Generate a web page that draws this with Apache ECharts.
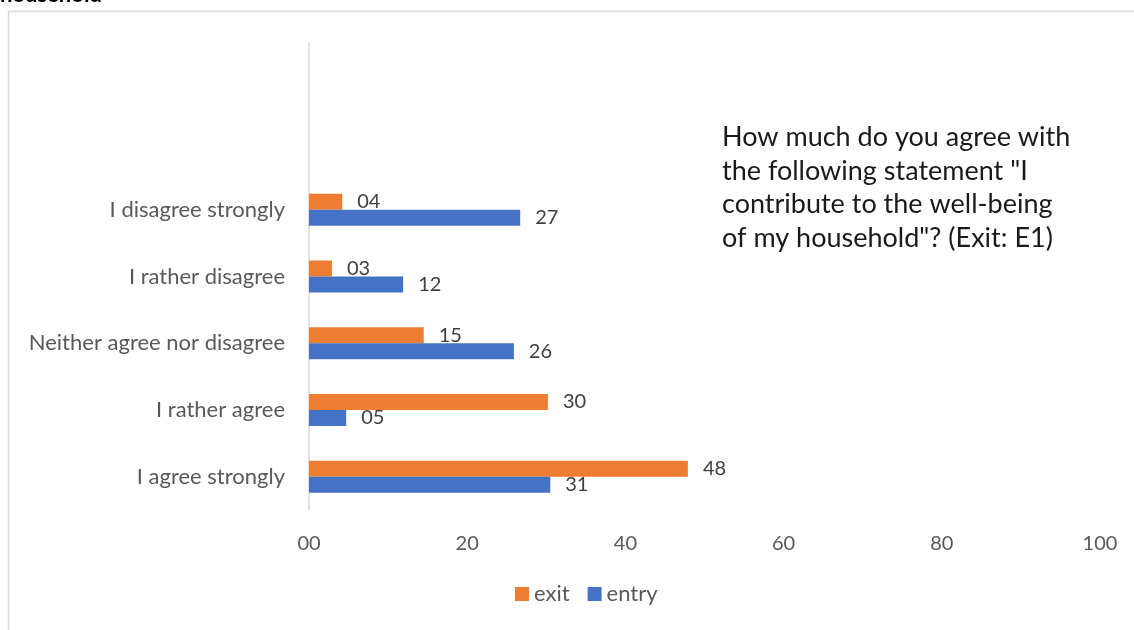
<!DOCTYPE html>
<html>
<head>
<meta charset="utf-8">
<script src="https://cdn.jsdelivr.net/npm/echarts@6/dist/echarts.min.js"></script>
<style>html,body{margin:0;padding:0;background:#fff;}#c{width:1134px;height:630px;}</style>
</head>
<body>
<div id="c"></div>
<script>
var categories = ['I agree strongly', 'I rather agree', 'Neither agree nor disagree', 'I rather disagree', 'I disagree strongly', '', ''];
var exitValues = [47.9, 30.2, 14.5, 2.9, 4.2, null, null];
var entryValues = [30.5, 4.7, 25.9, 11.9, 26.7, null, null];
var xTicks = [0, 20, 40, 60, 80, 100];
var seriesNames = ['exit', 'entry'];
var annotation = ['How much do you agree with', 'the following statement "I', 'contribute to the well-being', 'of my household"? (Exit: E1)'];
var titleText = 'household';

var FONT = 'Lato, "Open Sans", sans-serif';
function pad(v) { var r = Math.round(v); return (r < 10 ? '0' : '') + r; }

var chart = echarts.init(document.getElementById('c'), null, {renderer: 'canvas'});
chart.setOption({
  backgroundColor: '#fff',
  animation: false,
  textStyle: {fontFamily: FONT},
  grid: {left: 309, right: 34, top: 43, bottom: 120, containLabel: false},
  legend: {
    data: seriesNames,
    bottom: 20,
    left: 510,
    itemWidth: 14, itemHeight: 14, itemGap: 18,
    icon: 'rect',
    textStyle: {fontFamily: FONT, fontSize: 22, color: '#595959'}
  },
  xAxis: {
    type: 'value',
    min: xTicks[0], max: xTicks[xTicks.length - 1], interval: 20,
    axisLine: {show: false}, axisTick: {show: false}, splitLine: {show: false},
    axisLabel: {fontFamily: FONT, fontSize: 20, color: '#595959', margin: 24, formatter: function (v) { return pad(v); }}
  },
  yAxis: {
    type: 'category',
    data: categories,
    axisLine: {show: true, lineStyle: {color: '#d9d9d9', width: 1.5}},
    axisTick: {show: false},
    axisLabel: {fontFamily: FONT, fontSize: 22, color: '#595959', margin: 24}
  },
  series: [
    {
      name: 'exit', type: 'bar', data: exitValues,
      itemStyle: {color: '#ed7d31'},
      barGap: '0%', barCategoryGap: '52%',
      label: {show: true, position: 'right', distance: 15, fontFamily: FONT, fontSize: 20, color: '#404040', formatter: function (p) { return pad(p.value); }}
    },
    {
      name: 'entry', type: 'bar', data: entryValues,
      itemStyle: {color: '#4472c4'},
      barGap: '0%', barCategoryGap: '52%',
      label: {show: true, position: 'right', distance: 15, fontFamily: FONT, fontSize: 20, color: '#404040', formatter: function (p) { return pad(p.value); }}
    }
  ],
  graphic: [
    {type: 'rect', silent: true, shape: {x: 8.5, y: 11.5, width: 1200, height: 700}, style: {fill: 'none', stroke: '#d9d9d9', lineWidth: 1.5}},
    {type: 'text', left: 0, top: -16, style: {text: titleText, font: 'bold 22px ' + FONT, fill: '#000'}},
    {type: 'text', left: 722, top: 121, style: {text: annotation.join('\n'), font: '27px ' + FONT, lineHeight: 33.5, fill: '#1a1a1a'}}
  ]
});
</script>
</body>
</html>
